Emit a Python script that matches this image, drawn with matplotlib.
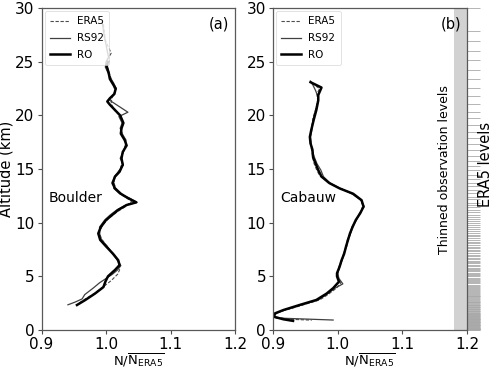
import numpy as np
import matplotlib
matplotlib.use("Agg")
from matplotlib import pyplot as plt

# Boulder (a)
b_ro_alt = [25.0, 24.6, 24.0, 23.4, 23.0, 22.5, 22.0, 21.6, 21.3, 21.0, 20.5, 20.0, 19.3, 18.8, 18.3,
            17.7, 17.2, 16.6, 16.0, 15.4, 14.75, 14.3, 13.7, 13.2, 12.7, 12.3, 11.9, 11.65, 11.2, 10.7,
            10.25, 9.6, 9.0, 8.4, 7.8, 7.1, 6.5, 6.05, 5.6, 5.0, 4.5, 4.0, 3.4, 2.8, 2.33]
b_ro = [1.003, 1.001, 1.004, 1.006, 1.010, 1.015, 1.013, 1.006, 1.002, 1.006, 1.014, 1.022, 1.027, 1.024, 1.023,
        1.029, 1.032, 1.026, 1.024, 1.026, 1.021, 1.014, 1.010, 1.014, 1.023, 1.034, 1.047, 1.032, 1.019, 1.009,
        1.000, 0.992, 0.988, 0.991, 1.000, 1.011, 1.019, 1.021, 1.014, 1.003, 0.999, 0.996, 0.983, 0.968, 0.955]

b_rs_alt = [28.7, 27.5, 26.3, 25.4, 25.0, 24.5, 24.0, 23.4, 23.0, 22.5, 22.0, 21.6, 21.4, 20.3, 19.9,
            19.3, 18.8, 18.3, 17.7, 17.2, 16.6, 16.0, 15.4, 14.75, 14.3, 13.7, 13.2, 12.7, 12.3, 11.9,
            11.65, 11.2, 10.7, 10.25, 9.6, 9.0, 8.4, 7.8, 7.1, 6.5, 6.0, 5.6, 5.2, 4.8, 4.4, 3.9, 3.3,
            2.9, 2.6, 2.35]
b_rs = [0.994, 0.997, 1.001, 1.004, 1.000, 0.999, 1.003, 1.008, 1.012, 1.016, 1.012, 1.007, 1.006, 1.034, 1.020,
        1.025, 1.022, 1.025, 1.031, 1.030, 1.027, 1.022, 1.027, 1.019, 1.013, 1.012, 1.012, 1.021, 1.036, 1.048,
        1.031, 1.017, 1.006, 0.998, 0.990, 0.990, 0.993, 1.002, 1.010, 1.018, 1.023, 1.018, 1.010, 1.000, 0.990,
        0.980, 0.967, 0.963, 0.952, 0.941]

b_era_alt = [28.5, 27.0, 25.8, 25.2, 24.5, 24.0, 23.4, 22.8, 22.2, 21.6, 21.1, 20.5, 20.0, 19.3, 18.6,
             18.0, 17.4, 16.8, 16.2, 15.6, 15.0, 14.4, 13.8, 13.2, 12.6, 12.0, 11.5, 11.0, 10.4, 9.8,
             9.2, 8.6, 8.0, 7.4, 6.8, 6.2, 5.6, 5.2, 4.6, 4.0, 3.4, 2.9, 2.5]
b_era = [0.996, 0.999, 1.008, 1.002, 1.002, 1.005, 1.008, 1.012, 1.014, 1.009, 1.008, 1.013, 1.021, 1.025, 1.024,
         1.027, 1.031, 1.028, 1.025, 1.025, 1.022, 1.015, 1.012, 1.015, 1.024, 1.040, 1.030, 1.017, 1.004, 0.995,
         0.990, 0.992, 0.999, 1.007, 1.015, 1.020, 1.021, 1.018, 1.008, 0.995, 0.982, 0.968, 0.958]

# Cabauw (b)
c_ro_alt = [23.1, 22.6, 21.9, 21.4, 20.5, 19.6, 18.6, 18.0, 17.4, 16.8, 16.1, 15.5, 14.9, 14.3, 13.7,
            13.2, 12.7, 12.1, 11.5, 10.9, 10.25, 9.6, 9.0, 8.4, 7.8, 7.1, 6.5, 5.9, 5.3, 5.0, 4.5, 3.9,
            3.4, 2.8, 2.33, 1.86, 1.55, 1.24, 1.0, 0.85]
c_ro = [0.958, 0.975, 0.970, 0.970, 0.967, 0.963, 0.959, 0.957, 0.958, 0.961, 0.962, 0.966, 0.970, 0.975, 0.987,
        1.003, 1.024, 1.037, 1.040, 1.035, 1.028, 1.023, 1.019, 1.016, 1.013, 1.010, 1.006, 1.003, 0.999, 0.999,
        1.002, 0.993, 0.983, 0.967, 0.941, 0.916, 0.903, 0.901, 0.916, 0.931]

c_rs_alt = [23.2, 22.8, 22.3, 21.8, 21.2, 20.5, 19.6, 18.6, 18.0, 17.4, 16.8, 16.1, 15.5, 14.9, 14.3,
            13.7, 13.2, 12.7, 12.1, 11.5, 10.9, 10.25, 9.6, 9.0, 8.4, 7.8, 7.1, 6.5, 5.9, 5.3, 4.8, 4.3,
            3.9, 3.4, 2.8, 2.33, 1.86, 1.55, 1.3, 1.12, 0.93]
c_rs = [0.958, 0.962, 0.966, 0.969, 0.969, 0.966, 0.962, 0.960, 0.958, 0.959, 0.960, 0.964, 0.968, 0.974, 0.978,
        0.988, 1.004, 1.022, 1.036, 1.041, 1.034, 1.029, 1.022, 1.020, 1.015, 1.014, 1.009, 1.007, 1.002, 1.000,
        1.002, 1.008, 0.996, 0.985, 0.970, 0.944, 0.918, 0.905, 0.902, 0.905, 0.993]

c_era_alt = [23.0, 22.5, 22.0, 21.4, 20.6, 19.8, 19.0, 18.2, 17.6, 17.0, 16.3, 15.6, 15.0, 14.4, 13.8,
             13.3, 12.8, 12.2, 11.6, 11.0, 10.4, 9.7, 9.0, 8.3, 7.6, 6.9, 6.2, 5.6, 5.0, 4.4, 3.9, 3.3,
             2.8, 2.4, 2.0, 1.7, 1.45, 1.2, 1.0, 0.92]
c_era = [0.960, 0.972, 0.968, 0.969, 0.966, 0.962, 0.960, 0.958, 0.957, 0.959, 0.961, 0.963, 0.967, 0.972, 0.985,
         1.000, 1.020, 1.035, 1.039, 1.036, 1.030, 1.024, 1.020, 1.016, 1.012, 1.009, 1.005, 1.002, 0.999, 1.005,
         0.998, 0.985, 0.972, 0.950, 0.928, 0.910, 0.902, 0.905, 0.925, 0.960]

# ERA5 model level heights (km) shown at right of panel (b)
era5_levels = [30.0, 27.9, 26.9, 26.0, 25.2, 24.2, 23.4, 22.6, 21.8, 21.1, 20.34, 19.72, 19.1, 18.47, 17.86,
               17.3, 16.77, 16.21, 15.75, 15.3, 14.88, 14.47, 14.07, 13.7, 13.4, 13.04, 12.74, 12.42, 12.18,
               11.86, 11.62, 11.43, 11.18, 10.97, 10.74, 10.56, 10.34, 10.16, 9.94, 9.75, 9.57, 9.40, 9.23,
               9.06, 8.89, 8.72, 8.56, 8.40, 8.24, 8.08, 7.92, 7.77, 7.62, 7.47, 7.32, 7.17, 7.03, 6.89, 6.75,
               6.61, 6.47, 6.34, 6.21, 6.08, 5.95, 5.82, 5.70, 5.58, 5.46, 5.34, 5.22, 5.10, 4.99, 4.88, 4.77,
               4.66, 4.55, 4.44, 4.34, 4.24, 4.14, 4.04, 3.94, 3.84, 3.75, 3.66, 3.57, 3.48, 3.39, 3.30, 3.21,
               3.13, 3.05, 2.97, 2.89, 2.81, 2.73, 2.65, 2.58, 2.51, 2.44, 2.37, 2.30, 2.23, 2.16, 2.10, 2.04,
               1.98, 1.92, 1.86, 1.80, 1.74, 1.68, 1.63, 1.58, 1.53, 1.48, 1.43, 1.38, 1.33, 1.28, 1.23, 1.19,
               1.15, 1.11, 1.07, 1.03, 0.99, 0.95, 0.91, 0.87, 0.83, 0.79, 0.75, 0.71, 0.67, 0.63, 0.59, 0.55,
               0.51, 0.47, 0.43, 0.39, 0.35, 0.31, 0.27, 0.23, 0.20, 0.17, 0.14, 0.11, 0.08, 0.05, 0.03, 0.01]

xticks = [0.9, 1.0, 1.1, 1.2]
yticks = [0, 5, 10, 15, 20, 25, 30]

plt.rcParams['font.family'] = 'DejaVu Sans'
plt.rcParams['mathtext.fontset'] = 'dejavusans'

fig = plt.figure(figsize=(5.0, 3.71), dpi=100)
ax1 = fig.add_axes([0.083, 0.1105, 0.387, 0.8675])
ax2 = fig.add_axes([0.546, 0.1105, 0.388, 0.8675])

sites = [(ax1, b_era_alt, b_era, b_rs_alt, b_rs, b_ro_alt, b_ro, "Boulder", "(a)"),
         (ax2, c_era_alt, c_era, c_rs_alt, c_rs, c_ro_alt, c_ro, "Cabauw", "(b)")]

for ax, ea, ev, ra, rv, oa, ov, name, lab in sites:
    ax.plot(ev, ea, ls='--', color='0.3', lw=0.8, dashes=(3, 1.5), label='ERA5')
    ax.plot(rv, ra, ls='-', color='0.25', lw=0.9, label='RS92')
    ax.plot(ov, oa, ls='-', color='k', lw=1.8, label='RO')
    ax.set_xlim(0.9, 1.2)
    ax.set_ylim(0, 30)
    ax.set_xticks(xticks)
    ax.set_yticks(yticks)
    ax.tick_params(labelsize=11, length=3, width=0.8, pad=2, colors='0.3', labelcolor='k')
    for s in ax.spines.values():
        s.set_color('0.35')
        s.set_linewidth(0.9)
    ax.set_xlabel(r'N/$\overline{\mathrm{N}_{\mathrm{ERA5}}}$', fontsize=9.5, labelpad=0)
    ax.text(0.911, 12.3, name, fontsize=10, ha='left', va='center')
    ax.text(0.97, 0.975, lab, transform=ax.transAxes, fontsize=10.5, ha='right', va='top')
    leg = ax.legend(loc='upper left', fontsize=7.5, handlelength=1.9, borderpad=0.5,
                    labelspacing=0.65, handletextpad=0.7, borderaxespad=0.3)
    leg.get_frame().set_linewidth(0.5)

ax1.set_ylabel('Altitude (km)', fontsize=10.5, labelpad=1)

# thinned observation levels band and ERA5 levels
ax2.axvspan(1.18, 1.2, color='#d2d2d2', lw=0, zorder=0)
ax2.hlines(era5_levels, 1.2, 1.22, colors='#a8a8a8', lw=0.6, clip_on=False)
ax2.text(1.165, 15.0, 'Thinned observation levels', rotation=90, fontsize=9, ha='center', va='center')
ax2.text(1.229, 15.4, 'ERA5 levels', rotation=90, fontsize=10.5, ha='center', va='center')

fig.savefig('out.png', dpi=100)
